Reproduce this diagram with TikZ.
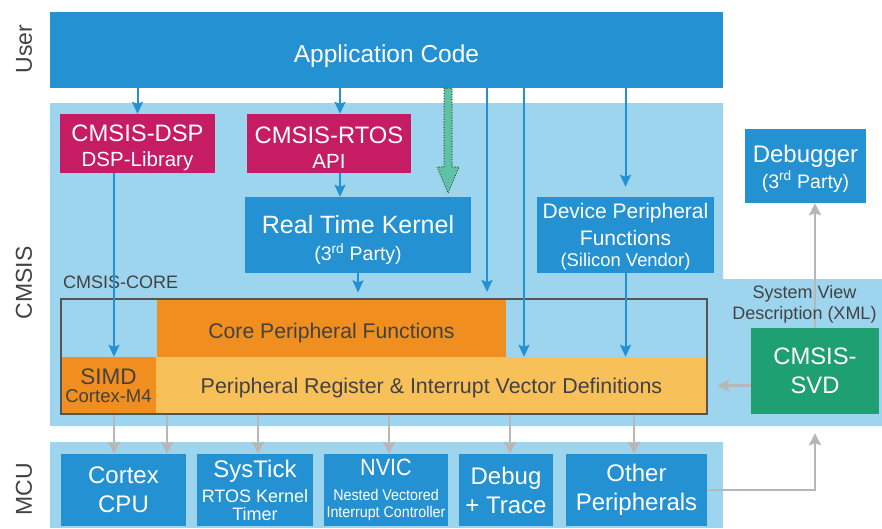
\documentclass[tikz,border=0pt]{standalone}
\usepackage{fontspec}
\setmainfont{Liberation Sans}
\newfontfamily\narrowfont[FakeStretch=0.92]{Liberation Sans}
\usetikzlibrary{arrows.meta,calc}
\definecolor{cblue}{RGB}{35,145,210}
\definecolor{clblue}{RGB}{157,212,238}
\definecolor{cmag}{RGB}{197,28,100}
\definecolor{corange}{RGB}{240,142,32}
\definecolor{clorange}{RGB}{248,192,88}
\definecolor{cgreen}{RGB}{31,160,115}
\definecolor{cteal}{RGB}{94,194,164}
\definecolor{cgray}{RGB}{183,183,183}
\definecolor{cdark}{RGB}{66,66,66}
\newcommand{\fsz}[2]{\fontsize{#1}{#2}\selectfont}
\newcommand{\dn}[1]{\rule{0pt}{\dimexpr0.73em+#1pt\relax}}
\tikzset{
  boxbase/.style={inner sep=0pt, align=center, anchor=center},
  bluebox/.style={boxbase, fill=cblue, text=white},
  magbox/.style={boxbase, fill=cmag, text=white, minimum width=155pt, minimum height=59pt, font=\fsz{23.8}{25}},
  orbox/.style={boxbase, fill=corange, text=cdark},
  lorbox/.style={boxbase, fill=clorange, text=cdark},
  grnbox/.style={boxbase, fill=cgreen, text=white},
  mcubox/.style={bluebox, minimum height=72pt},
  sidelbl/.style={inner sep=0pt, text=cdark, font=\fsz{23}{25}, rotate=90},
  darktext/.style={inner sep=0pt, text=cdark},
  coreframe/.style={draw=cdark!90, line width=1.2pt, inner sep=0pt},
  barrow/.style={draw=cblue, line width=2pt, -{Stealth[length=12pt,width=11pt,inset=2pt]}},
  garrow/.style={draw=cgray, line width=2.6pt, -{Stealth[length=12pt,width=12pt,inset=2pt]}},
  dotarrow/.style={fill=cteal, draw=cdark, line width=1.3pt, dash pattern=on 0.01pt off 2.6pt, line cap=round},
}
\begin{document}
\begin{tikzpicture}[x=1pt,y=-1pt]
\useasboundingbox (0,0) rectangle (882,528);
% regions
\fill[clblue] (50,103) -- (723,103) -- (723,279) -- (882,279) -- (882,426) -- (50,426) -- cycle;
\fill[clblue] (50,442) rectangle (723,528);
% side labels
\node[sidelbl] (luser) at (24,49) {User};
\node[sidelbl] (lcmsis) at (24,283) {CMSIS};
\node[sidelbl] (lmcu) at (24,489) {MCU};
% user
\node[bluebox, minimum width=673pt, minimum height=76pt, font=\fsz{24.5}{26}] (app) at (386.5,50) {\dn{12}Application Code};
% cmsis
\node[magbox] (dsp) at (137.5,143.5) {\dn{7}CMSIS-DSP\\\fsz{20.5}{25}DSP-Library};
\node[magbox, minimum width=164pt] (rtos) at (329,143.5) {\dn{7}CMSIS-RTOS\\\fsz{20.5}{25}API};
\node[bluebox, minimum width=226pt, minimum height=76pt, font=\fsz{25}{27}] (rtk) at (358,235) {\dn{10}Real Time Kernel\\\fsz{19.5}{27}(3\textsuperscript{rd} Party)};
\node[bluebox, minimum width=177pt, minimum height=76pt, font=\fsz{21}{27}] (dev) at (625.5,235) {\dn{4}Device Peripheral\\Functions\\[-6pt]\fsz{18.4}{21}(Silicon Vendor)};
\node[bluebox, minimum width=121pt, minimum height=74pt, font=\fsz{24}{26}] (dbg) at (805.5,166) {\dn{5}Debugger\\\fsz{19.5}{26}(3\textsuperscript{rd} Party)};
\node[darktext, anchor=base west, font=\fsz{18}{20}] (corelbl) at (63,288) {CMSIS-CORE};
\node[orbox, minimum width=349pt, minimum height=58pt, font=\fsz{21.2}{24}] (cpf) at (331.5,328) {\dn{10}Core Peripheral Functions};
\node[orbox, minimum width=95pt, minimum height=57pt, font=\fsz{18.5}{18}] (simd) at (108.5,385.5) {\fsz{22.5}{18}SIMD\\Cortex-M4};
\node[lorbox, minimum width=551pt, minimum height=57pt, font=\fsz{21.4}{24}] (prb) at (431.5,385.5) {\dn{5}Peripheral Register \& Interrupt Vector Definitions};
\node[coreframe, minimum width=646pt, minimum height=115pt] (frame) at (384,356.5) {};
\node[grnbox, minimum width=128pt, minimum height=86pt, font=\fsz{23.8}{29}] (svd) at (815,371) {CMSIS-\\SVD};
% mcu
\node[mcubox, minimum width=125pt, font=\fsz{24}{29}] (cpu) at (123.5,490) {Cortex\\CPU};
\node[mcubox, minimum width=116pt, font=\fsz{18}{18}] (sys) at (255,490) {\fsz{24}{18}SysTick\\[6pt]RTOS Kernel\\Timer};
\node[mcubox, minimum width=124pt, font=\narrowfont\fsz{15.5}{17}] (nvic) at (386,490) {\fsz{23.5}{17}NVIC\\[8pt]Nested Vectored\\Interrupt Controller};
\node[mcubox, minimum width=94pt, font=\fsz{24}{29}] (dbt) at (506,490) {Debug\\+ Trace};
\node[mcubox, minimum width=141pt, font=\fsz{24}{29}] (oth) at (636.5,490) {Other\\Peripherals};
% blue arrows
\coordinate (x487) at (487,292);
\coordinate (x524) at (524,0);
\draw[barrow] (app.south -| dsp) -- (dsp.north);
\draw[barrow] ([xshift=11pt]rtos.north |- app.south) -- ([xshift=11pt]rtos.north);
\draw[barrow] ([xshift=11pt]rtos.south) -- ([xshift=11pt]rtos.south |- rtk.north);
\draw[barrow] (rtk.south) -- ([yshift=6pt]frame.north -| rtk);
\draw[barrow] (app.south -| x487) -- (x487);
\draw[barrow] (app.south -| x524) -- (prb.north -| x524);
\draw[barrow] (app.south -| dev) -- ([yshift=10pt]dev.north);
\draw[barrow] (dev.south) -- (prb.north -| dev);
\draw[barrow] ([xshift=-23.5pt]dsp.south) -- ([xshift=-23.5pt]dsp.south |- simd.north);
% dotted green arrow
\coordinate (gtip) at (448,193);
\draw[dotarrow] (app.south -| 444,0) -- (444,167) -- (437,167) -- (gtip) -- (459,167) -- (452,167) -- (app.south -| 452,0) -- cycle;
% gray arrows
\foreach \xx/\tt in {114/cpu,167/cpu,258/sys,389/nvic,510/dbt,634/oth}
  \draw[garrow] (frame.south -| \xx,0) -- (\tt.north -| \xx,0);
\draw[garrow] (svd.west |- prb) -- ([xshift=10pt]prb.east);
\draw[garrow] (oth.east) -| ([yshift=-19pt]svd.south);
\draw[garrow] (svd.north) -- (svd.north |- dbg.south);
\node[darktext, align=center, font=\fsz{18}{21}] (svdlbl) at (804.5,304) {System View\\Description (XML)};
\end{tikzpicture}
\end{document}
